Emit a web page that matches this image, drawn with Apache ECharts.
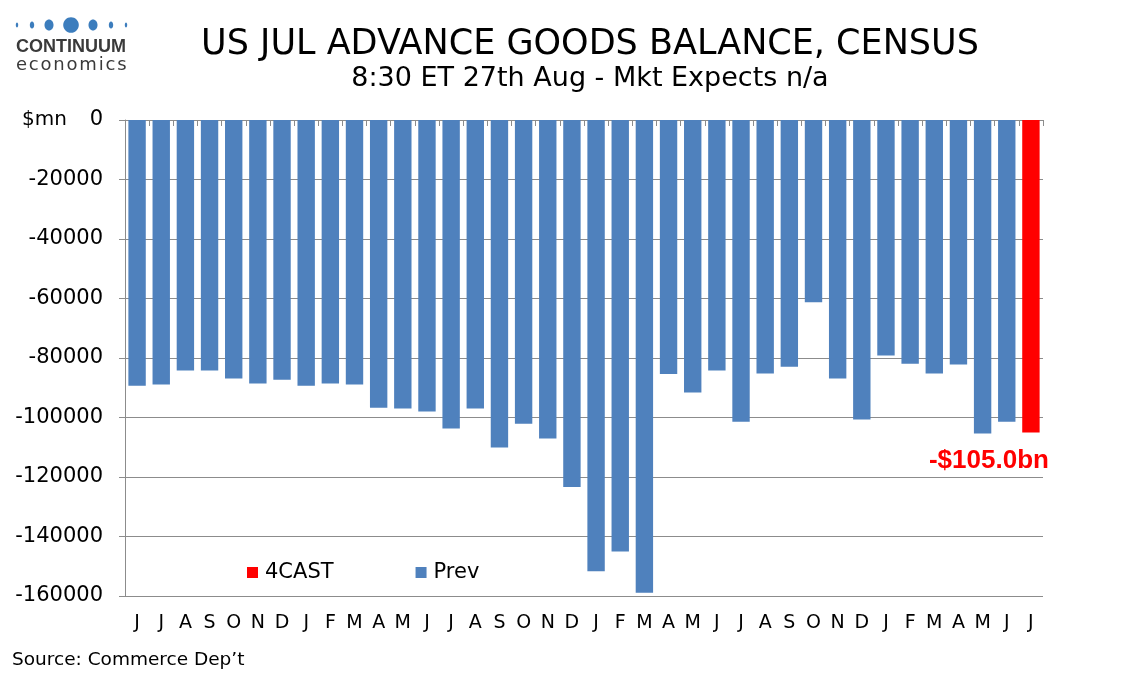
<!DOCTYPE html>
<html>
<head>
<meta charset="utf-8">
<script src="https://cdn.jsdelivr.net/npm/echarts@6/dist/echarts.min.js"></script>
<style>
html,body{margin:0;padding:0;background:#fff;}
#chart{width:1134px;height:680px;}
</style>
</head>
<body>
<div id="chart"></div>
<script>
// Categories: Jun 2022 .. Jul 2025 (month initials)
var categories = ['J','J','A','S','O','N','D','J','F','M','A','M','J','J','A','S','O','N','D','J','F','M','A','M','J','J','A','S','O','N','D','J','F','M','A','M','J','J'];
// Previous actuals, $mn (Jun 2022 .. Jun 2025)
var prevValues = [-89300,-88900,-84200,-84200,-86900,-88600,-87300,-89300,-88600,-88900,-96700,-97000,-98000,-103700,-97000,-110100,-102100,-107100,-123400,-151700,-145000,-158900,-85400,-91600,-84200,-101400,-85200,-82900,-61300,-86900,-100700,-79200,-81900,-85200,-82200,-105400,-101400];
// Forecast for Jul 2025, $mn
var forecastValue = -105000;
var yTicks = {min:-160000, max:0, interval:20000};

var prevData = prevValues.concat([null]);
var fcData = categories.map(function(c,i){ return i === categories.length-1 ? forecastValue : null; });

var chart = echarts.init(document.getElementById('chart'));
var FONT = 'DejaVu Sans';
var dots = [
  {x:17, rx:1.2, ry:2.5},{x:32, rx:2.2, ry:3.6},{x:49, rx:4.5, ry:5.5},{x:71, rx:7.8, ry:7.8},
  {x:93, rx:4.5, ry:5.5},{x:111, rx:2.2, ry:3.6},{x:126, rx:1.2, ry:2.5}
];
var graphics = dots.map(function(d){
  return {type:'ellipse', shape:{cx:d.x, cy:25, rx:d.rx, ry:d.ry}, style:{fill:'#3c7dbd'}};
});
var hs = '\u200a';
graphics.push(
  {type:'text', left:16, top:38, style:{text:'CONTINUUM', font:'bold 18px "Liberation Sans"', fill:'#3a3a3a'}},
  {type:'text', left:16, top:56, style:{text:['e','c','o','n','o','m','i','c','s'].join(hs), font:'18px "DejaVu Sans"', fill:'#3a3a3a'}},
  {type:'text', left:22, top:110, style:{text:'$mn', font:'20px "DejaVu Sans"', fill:'#000'}},
  {type:'text', left:12, top:651, style:{text:'Source: Commerce Dep\u2019t', font:'18.5px "DejaVu Sans"', fill:'#000'}}
);

chart.setOption({
  animation:false,
  backgroundColor:'#fff',
  title:[
    {text:'US JUL ADVANCE GOODS BALANCE, CENSUS', left:585, top:22, textAlign:'center',
     textStyle:{fontFamily:FONT, fontSize:35, fontWeight:'normal', color:'#000'}},
    {text:'8:30 ET 27th Aug - Mkt Expects n/a', left:585, top:60, textAlign:'center',
     textStyle:{fontFamily:FONT, fontSize:27, fontWeight:'normal', color:'#000'}}
  ],
  graphic:graphics,
  legend:{
    data:['4CAST','Prev'], left:242, top:557, itemWidth:11, itemHeight:11, itemGap:82,
    icon:'rect',
    textStyle:{fontFamily:FONT, fontSize:21, color:'#000', padding:[0,0,0,2]}
  },
  grid:{left:125, right:91, top:120, bottom:84, containLabel:false},
  xAxis:[
    {type:'category', data:categories, position:'bottom',
     axisLine:{show:false, onZero:false}, axisTick:{show:false},
     axisLabel:{fontFamily:FONT, fontSize:19, color:'#000', margin:18, interval:0}},
    {type:'category', data:categories, position:'top',
     axisLine:{show:true, onZero:false, lineStyle:{color:'#8c8c8c', width:1}},
     axisTick:{show:true, inside:true, length:6, lineStyle:{color:'#8c8c8c'}},
     axisLabel:{show:false}}
  ],
  yAxis:{
    type:'value', min:yTicks.min, max:yTicks.max, interval:yTicks.interval,
    axisLine:{show:true, lineStyle:{color:'#8c8c8c', width:1}},
    axisTick:{show:true, length:6, lineStyle:{color:'#8c8c8c'}},
    splitLine:{show:true, lineStyle:{color:'#8c8c8c', width:1}},
    axisLabel:{fontFamily:FONT, fontSize:21, color:'#000', margin:22,
      formatter:function(v){ return String(v); }}
  },
  series:[
    {name:'4CAST', type:'bar', data:fcData, barWidth:'72%', barGap:'-100%',
     itemStyle:{color:'#ff0000'},
     label:{show:true, position:'bottom', distance:15, offset:[-42,0],
       formatter:function(p){ return p.value==null ? '' : '-$' + (Math.abs(p.value)/1000).toFixed(1) + 'bn'; },
       fontFamily:'Liberation Sans', fontWeight:'bold', fontSize:26, color:'#ff0000'}},
    {name:'Prev', type:'bar', data:prevData, barWidth:'72%', barGap:'-100%',
     itemStyle:{color:'#4f81bd'}}
  ]
});
</script>
</body>
</html>
